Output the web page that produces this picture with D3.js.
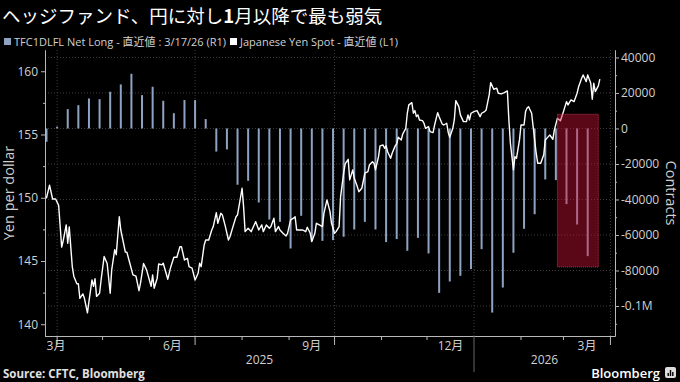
<!DOCTYPE html>
<html>
<head>
<meta charset="utf-8">
<script src="https://cdn.jsdelivr.net/npm/d3@7"></script>
<style>
  body { margin: 0; background: #000; }
  text { font-family: "Open Sans", "Noto Sans CJK JP", sans-serif; }
</style>
</head>
<body>
<div id="chart"></div>
<script>
var width = 680;
var height = 382;

// CFTC weekly yen net positioning (contracts), Tuesdays
var barDates = ["2025-03-25","2025-04-01","2025-04-08","2025-04-15","2025-04-22","2025-04-29",
  "2025-05-06","2025-05-13","2025-05-20","2025-05-27","2025-06-03","2025-06-10","2025-06-17",
  "2025-06-24","2025-07-01","2025-07-08","2025-07-15","2025-07-22","2025-07-29","2025-08-05",
  "2025-08-12","2025-08-19","2025-08-26","2025-09-02","2025-09-09","2025-09-16","2025-09-23",
  "2025-09-30","2025-10-07","2025-10-14","2025-10-21","2025-10-28","2025-11-04","2025-11-11",
  "2025-11-18","2025-11-25","2025-12-02","2025-12-09","2025-12-16","2025-12-23","2025-12-30",
  "2026-01-06","2026-01-13","2026-01-20","2026-01-27","2026-02-03","2026-02-10","2026-02-17",
  "2026-02-24","2026-03-03","2026-03-10","2026-03-17"];
var netLong = [-7500, 1000, 10900, 13100, 16900, 16500, 20700, 24800, 30800, 18800,
  23500, 15600, 8600, 16000, 16000, 5300, -13000, -11800, -31700, -29500,
  -41700, -51300, -52600, -67600, -49200, -63500, -63300, -62900, -61000, -56900,
  -52600, -56900, -64000, -62300, -68900, -61600, -70400, -92600, -86200, -83000,
  -79200, -68000, -103700, -89600, -70000, -56500, -48300, -28700, -29100, -42600,
  -54100, -71900];

// USD/JPY spot
var yenDates = ["2025-03-24","2025-03-25","2025-03-27","2025-03-29","2025-03-31","2025-04-02",
  "2025-04-04","2025-04-05","2025-04-07","2025-04-08","2025-04-09","2025-04-11","2025-04-12",
  "2025-04-14","2025-04-15","2025-04-16","2025-04-18","2025-04-19","2025-04-21","2025-04-22",
  "2025-04-24","2025-04-25","2025-04-26","2025-04-27","2025-04-29","2025-04-30","2025-05-02",
  "2025-05-04","2025-05-06","2025-05-07","2025-05-09","2025-05-10","2025-05-12","2025-05-13",
  "2025-05-16","2025-05-17","2025-05-19","2025-05-21","2025-05-23","2025-05-25","2025-05-26",
  "2025-05-28","2025-05-30","2025-06-02","2025-06-03","2025-06-04","2025-06-06","2025-06-07",
  "2025-06-09","2025-06-10","2025-06-13","2025-06-15","2025-06-17","2025-06-19","2025-06-21",
  "2025-06-22","2025-06-24","2025-06-26","2025-06-27","2025-06-29","2025-07-01","2025-07-03",
  "2025-07-04","2025-07-05","2025-07-07","2025-07-08","2025-07-10","2025-07-12","2025-07-13",
  "2025-07-15","2025-07-16","2025-07-18","2025-07-19","2025-07-21","2025-07-23","2025-07-24",
  "2025-07-26","2025-07-28","2025-07-29","2025-08-01","2025-08-02","2025-08-03","2025-08-05",
  "2025-08-07","2025-08-08","2025-08-09","2025-08-10","2025-08-12","2025-08-14","2025-08-15",
  "2025-08-17","2025-08-19","2025-08-20","2025-08-22","2025-08-23","2025-08-25","2025-08-26",
  "2025-08-28","2025-08-30","2025-08-31","2025-09-02","2025-09-04","2025-09-05","2025-09-06",
  "2025-09-08","2025-09-10","2025-09-12","2025-09-13","2025-09-15","2025-09-16","2025-09-18",
  "2025-09-19","2025-09-21","2025-09-23","2025-09-24","2025-09-26","2025-09-28","2025-09-29",
  "2025-10-01","2025-10-02","2025-10-04","2025-10-05","2025-10-07","2025-10-08","2025-10-10",
  "2025-10-11","2025-10-13","2025-10-14","2025-10-16","2025-10-17","2025-10-19","2025-10-21",
  "2025-10-23","2025-10-24","2025-10-26","2025-10-27","2025-10-28","2025-10-30","2025-10-31",
  "2025-11-02","2025-11-03","2025-11-04","2025-11-05","2025-11-07","2025-11-08","2025-11-10",
  "2025-11-11","2025-11-12","2025-11-14","2025-11-15","2025-11-17","2025-11-18","2025-11-19",
  "2025-11-21","2025-11-22","2025-11-23","2025-11-24","2025-11-25","2025-11-26","2025-11-28",
  "2025-11-29","2025-11-30","2025-12-02","2025-12-03","2025-12-05","2025-12-06","2025-12-08",
  "2025-12-09","2025-12-11","2025-12-12","2025-12-14","2025-12-15","2025-12-16","2025-12-18",
  "2025-12-19","2025-12-20","2025-12-22","2025-12-23","2025-12-25","2025-12-27","2025-12-28",
  "2025-12-29","2025-12-30","2026-01-01","2026-01-03","2026-01-05","2026-01-06","2026-01-08",
  "2026-01-09","2026-01-11","2026-01-12","2026-01-14","2026-01-16","2026-01-17","2026-01-19",
  "2026-01-21","2026-01-23","2026-01-24","2026-01-25","2026-01-27","2026-01-28","2026-01-29",
  "2026-01-31","2026-02-01","2026-02-03","2026-02-04","2026-02-05","2026-02-06","2026-02-08",
  "2026-02-09","2026-02-10","2026-02-11","2026-02-12","2026-02-14","2026-02-16","2026-02-17",
  "2026-02-19","2026-02-20","2026-02-22","2026-02-23","2026-02-25","2026-02-27","2026-03-01",
  "2026-03-03","2026-03-04","2026-03-06","2026-03-08","2026-03-10","2026-03-11","2026-03-13",
  "2026-03-14","2026-03-16","2026-03-17","2026-03-19","2026-03-20","2026-03-21","2026-03-22",
  "2026-03-24","2026-03-25"];
var yenValues = [150.0,150.0,151.0,149.9,149.9,149.4,
  146.1,146.6,147.85,146.4,147.7,144.55,143.8,
  143.2,143.2,142.05,142.4,142.05,140.9,141.8,
  143.5,143.0,143.6,142.2,142.45,143.5,145.35,
  144.8,142.45,144.3,145.9,145.5,148.5,147.45,
  145.7,145.7,144.8,143.9,143.8,142.65,143.25,
  144.8,144.3,143.0,143.9,142.85,143.64,144.77,
  144.69,144.82,143.56,144.55,145.3,145.3,146.13,
  146.13,145.08,145.2,144.55,144.43,143.5,144.03,
  144.82,144.55,146.27,146.66,146.66,147.45,147.72,
  148.82,147.98,148.77,148.64,147.72,146.66,146.92,
  147.72,148.5,148.64,150.75,149.3,147.32,147.59,
  147.32,147.59,147.85,148.11,147.45,147.85,147.32,
  147.85,147.59,147.72,148.38,147.32,147.72,147.45,
  147.19,146.98,147.19,148.25,148.38,148.5,147.45,
  147.45,147.45,147.32,147.67,147.19,146.53,147.19,
  147.98,147.85,147.72,148.77,149.83,148.9,147.98,
  147.19,147.32,147.72,150.09,151.94,152.67,153.04,
  151.41,152.2,151.54,150.88,150.48,150.75,151.94,
  152.06,152.59,152.85,152.73,152.2,153.25,154.1,
  154.17,153.91,154.1,153.64,153.12,153.52,154.1,
  154.25,154.78,154.57,155.04,155.49,156.68,157.34,
  157.52,156.68,156.89,156.41,156.55,156.15,156.1,
  155.89,155.49,155.62,155.23,155.15,155.75,156.73,
  156.41,155.83,155.75,155.89,155.15,154.78,155.49,
  156.15,157.68,157.2,156.55,156.02,156.02,156.55,
  156.15,156.68,156.81,156.89,156.41,156.68,156.81,
  156.94,158.13,159.1,158.58,158.66,158.26,158.21,
  158.31,158.44,156.15,154.31,152.2,153.25,153.12,
  154.57,155.75,155.75,156.81,157.1,157.2,156.68,
  155.62,154.57,153.52,152.73,152.73,153.4,154.57,
  154.83,154.96,154.62,155.36,156.28,156.09,156.81,
  157.6,157.34,157.73,157.6,158.26,158.78,159.45,
  159.71,159.18,159.71,159.05,157.79,159.05,158.39,
  158.84,159.37];

var leftTicks = [140, 145, 150, 155, 160];
var leftMinor = [142.5, 147.5, 152.5, 157.5];
var rightTicks = [40000, 20000, 0, -20000, -40000, -60000, -80000, -100000];
var rightMinor = [30000, 10000, -10000, -30000, -50000, -70000, -90000, -110000];
var labelMonths = ["2025-03", "2025-06", "2025-09", "2025-12", "2026-03"];
var yearLabels = ["2025", "2026"];
var highlightDates = ["2026-02-25", "2026-03-24"];
var highlightRange = [8000, -78000];

var parse = d3.timeParse("%Y-%m-%d");
var parseMonth = d3.timeParse("%Y-%m");

var plotLeft = 45, plotRight = 615, plotTop = 50, plotBottom = 336;
var startDate = parse("2025-03-24"), endDate = parse("2026-04-04");

var x = d3.scaleTime().domain([startDate, endDate]).range([plotLeft, plotRight]);
var yL = d3.scaleLinear().domain([139.07, 161.68]).range([plotBottom, plotTop]);
var yR = d3.scaleLinear().domain([-116900, 44200]).range([plotBottom, plotTop]);

var svg = d3.select("#chart").append("svg")
  .attr("width", width)
  .attr("height", height)
  .style("background", "#000");

var axisCol = "#b8b8b8", textCol = "#d0d0d0", barCol = "#8ea3c0";

// title
var title = svg.append("text").attr("x", 2).attr("y", 23)
  .attr("fill", "#fff").style("font-size", "18.5px")
  .style("font-family", "'Noto Sans CJK JP', sans-serif");
title.append("tspan").text("ヘッジファンド、円に対し");
title.append("tspan").style("font-weight", "bold").text("1");
title.append("tspan").text("月以降で最も弱気");

// legend
var legend = svg.append("g").style("font-size", "11px");
legend.append("rect").attr("x", 4).attr("y", 38).attr("width", 7).attr("height", 7).attr("fill", barCol);
legend.append("text").attr("x", 14).attr("y", 45.5).attr("fill", textCol)
  .text("TFC1DLFL Net Long - 直近値 : 3/17/26 (R1)");
legend.append("rect").attr("x", 230).attr("y", 38).attr("width", 7).attr("height", 7).attr("fill", "#fff");
legend.append("text").attr("x", 240).attr("y", 45.5).attr("fill", textCol)
  .text("Japanese Yen Spot - 直近値 (L1)");

// grid
var grid = svg.append("g").attr("stroke", "#3c3c3c").attr("stroke-dasharray", "1,2");
grid.selectAll(".h").data(rightTicks).enter().append("line")
  .attr("x1", plotLeft).attr("x2", plotRight)
  .attr("y1", function(d){ return yR(d); }).attr("y2", function(d){ return yR(d); });
var months = d3.timeMonth.range(d3.timeMonth.ceil(startDate), endDate);
var quarters = months.filter(function(d){ return d.getMonth() % 3 === 0; });
grid.selectAll(".v").data(quarters).enter().append("line")
  .attr("y1", plotTop).attr("y2", plotBottom)
  .attr("x1", function(d){ return x(d); }).attr("x2", function(d){ return x(d); });

// bars
svg.append("g").selectAll("rect").data(netLong).enter().append("rect")
  .attr("x", function(d, i){ return x(parse(barDates[i])) - 1; })
  .attr("width", 2)
  .attr("y", function(d){ return yR(Math.max(0, d)); })
  .attr("height", function(d){ return Math.abs(yR(d) - yR(0)); })
  .attr("fill", barCol);

// yen line
var line = d3.line()
  .x(function(d, i){ return x(parse(yenDates[i])); })
  .y(function(d){ return yL(d); })
  .curve(d3.curveLinear);
svg.append("path").datum(yenValues)
  .attr("d", line)
  .attr("fill", "none")
  .attr("stroke", "#fff")
  .attr("stroke-width", 1.4)
  .attr("stroke-linejoin", "round");

// highlight box
var hx0 = x(parse(highlightDates[0])), hx1 = x(parse(highlightDates[1]));
svg.append("rect")
  .attr("x", hx0).attr("width", hx1 - hx0)
  .attr("y", yR(highlightRange[0])).attr("height", yR(highlightRange[1]) - yR(highlightRange[0]))
  .attr("fill", "rgba(215,18,55,0.42)")
  .attr("stroke", "#c0304a").attr("stroke-width", 1).attr("stroke-dasharray", "1,1");

// axes
svg.append("g").attr("transform", "translate(" + plotLeft + ",0)")
  .call(d3.axisLeft(yL).tickValues(leftTicks).tickSize(4).tickSizeOuter(0).tickPadding(3));
svg.append("g").attr("transform", "translate(" + plotLeft + ",0)")
  .call(d3.axisLeft(yL).tickValues(leftMinor).tickSize(2).tickSizeOuter(0).tickFormat(""));
svg.append("g").attr("transform", "translate(" + plotRight + ",0)")
  .call(d3.axisRight(yR).tickValues(rightTicks).tickSize(4).tickSizeOuter(0).tickPadding(2)
    .tickFormat(function(d){ return d === -100000 ? "-0.1M" : String(d); }));
svg.append("g").attr("transform", "translate(" + plotRight + ",0)")
  .call(d3.axisRight(yR).tickValues(rightMinor).tickSize(2).tickSizeOuter(0).tickFormat(""));

svg.selectAll(".domain").attr("stroke", axisCol);
svg.selectAll(".tick line").attr("stroke", axisCol);
svg.selectAll(".tick text").attr("fill", textCol).style("font-size", "12px")
  .style("font-family", "'Open Sans', sans-serif");

// bottom axis
svg.append("line").attr("x1", plotLeft).attr("x2", plotRight)
  .attr("y1", plotBottom + 0.5).attr("y2", plotBottom + 0.5)
  .attr("stroke", axisCol);
svg.append("g").selectAll("line").data(months).enter().append("line")
  .attr("x1", function(d){ return x(d); }).attr("x2", function(d){ return x(d); })
  .attr("y1", plotBottom)
  .attr("y2", function(d){
    if (d.getMonth() === 0) return 372;
    return d.getMonth() % 3 === 0 ? plotBottom + 9 : plotBottom + 4;
  })
  .attr("stroke", function(d){ return d.getMonth() === 0 ? "#666" : axisCol; });

svg.append("g").selectAll("text").data(labelMonths).enter().append("text")
  .attr("x", function(d){
    var m0 = parseMonth(d), m1 = d3.timeMonth.offset(m0, 1);
    var cx = (x(m0 < startDate ? startDate : m0) + x(m1)) / 2;
    return Math.max(cx, plotLeft + 11);
  })
  .attr("y", 350)
  .attr("text-anchor", "middle")
  .attr("fill", textCol)
  .style("font-size", "12px")
  .text(function(d){ return (parseMonth(d).getMonth() + 1) + "月"; });

svg.append("g").selectAll("text").data(yearLabels).enter().append("text")
  .attr("x", function(d){
    var y0 = parse(d + "-01-01"), y1 = parse((+d + 1) + "-01-01");
    return (x(y0 < startDate ? startDate : y0) + x(y1 > endDate ? endDate : y1)) / 2;
  })
  .attr("y", 364)
  .attr("text-anchor", "middle")
  .attr("fill", textCol)
  .style("font-size", "12px")
  .text(function(d){ return d; });

// axis titles
svg.append("text")
  .attr("transform", "translate(14," + ((plotTop + plotBottom) / 2) + ") rotate(-90)")
  .attr("text-anchor", "middle").attr("fill", textCol).style("font-size", "14.5px")
  .text("Yen per dollar");
svg.append("text")
  .attr("transform", "translate(666," + ((plotTop + plotBottom) / 2) + ") rotate(90)")
  .attr("text-anchor", "middle").attr("fill", textCol).style("font-size", "14.5px")
  .text("Contracts");

// footer
svg.append("text").attr("x", 3).attr("y", 378).attr("fill", "#e0e0e0")
  .style("font-size", "11.5px").style("font-weight", "bold")
  .text("Source: CFTC, Bloomberg");
svg.append("text").attr("x", 660).attr("y", 378).attr("text-anchor", "end").attr("fill", "#fff")
  .style("font-size", "13px").style("font-weight", "600")
  .text("Bloomberg");
var logo = svg.append("g").attr("transform", "translate(665,367)");
logo.append("rect").attr("width", 11).attr("height", 11).attr("rx", 2).attr("fill", "#ddd");
logo.selectAll(".b").data([3, 6, 4]).enter().append("rect")
  .attr("x", function(d, i){ return 2.5 + i * 2.3; }).attr("y", function(d){ return 9 - d; })
  .attr("width", 1.4).attr("height", function(d){ return d; }).attr("fill", "#000");
</script>
</body>
</html>
